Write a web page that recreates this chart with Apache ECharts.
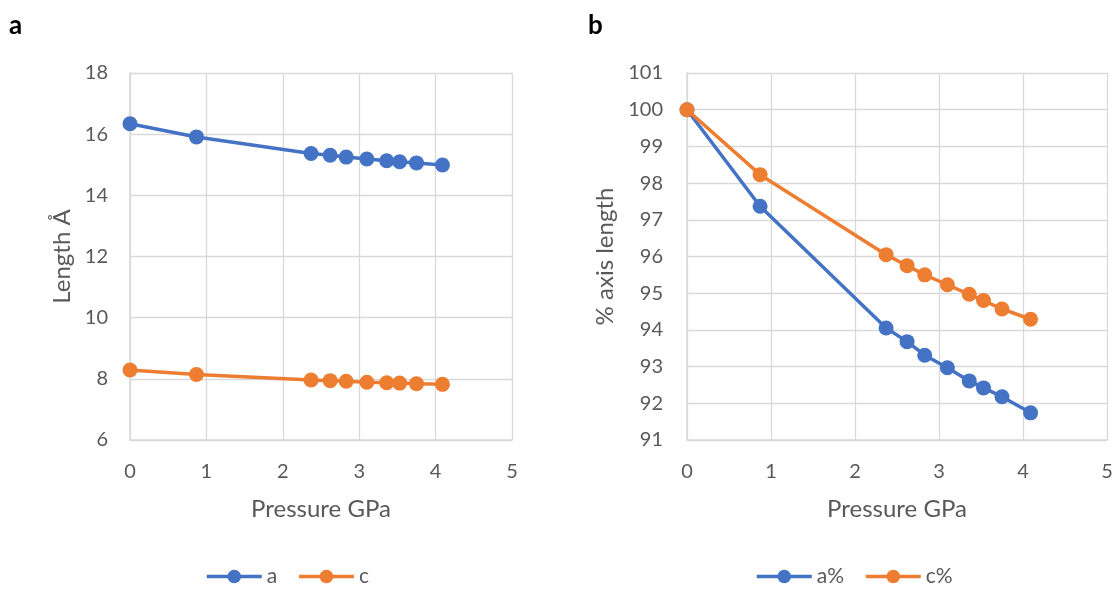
<!DOCTYPE html>
<html>
<head>
<meta charset="utf-8">
<script src="https://cdn.jsdelivr.net/npm/echarts@6/dist/echarts.min.js"></script>
<style>
html,body{margin:0;padding:0;background:#fff;}
#main{width:1116px;height:590px;}
</style>
</head>
<body>
<div id="main"></div>
<script>
// data
var pressure=[0,0.87,2.37,2.62,2.83,3.10,3.36,3.53,3.75,4.09];
var aLen=[16.34,15.91,15.37,15.31,15.25,15.19,15.13,15.10,15.06,14.99];
var cLen=[8.29,8.14,7.96,7.94,7.92,7.89,7.87,7.86,7.84,7.82];
var aPct=[100,97.37,94.05,93.68,93.31,92.97,92.61,92.42,92.18,91.74];
var cPct=[100,98.23,96.05,95.75,95.50,95.23,94.97,94.80,94.57,94.29];
var xTicks=[0,1,2,3,4,5];

var blue="#4472C4",orange="#ED7D31",txt="#595959",grid="#d9d9d9";
var font="Lato, 'Open Sans', sans-serif";

function pairs(xs,ys){
    var out=[];
    for(var i=0;i<xs.length;i++){out.push([xs[i],ys[i]]);}
    return out;
}
function xAxis(idx){
    return {
        type:"value",gridIndex:idx,min:xTicks[0],max:xTicks[xTicks.length-1],interval:1,
        name:"Pressure GPa",nameLocation:"middle",nameGap:57,
        nameTextStyle:{color:txt,fontSize:24,fontFamily:font},
        axisLine:{show:true,lineStyle:{color:grid,width:1.5}},
        axisTick:{show:false},
        axisLabel:{color:txt,fontSize:20,fontFamily:font,margin:22},
        splitLine:{show:true,lineStyle:{color:grid,width:1.3}}
    };
}
function yAxis(idx,min,max,step,name,gap,margin){
    return {
        type:"value",gridIndex:idx,min:min,max:max,interval:step,
        name:name,nameLocation:"middle",nameGap:gap,
        nameTextStyle:{color:txt,fontSize:24,fontFamily:font},
        axisLine:{show:true,lineStyle:{color:grid,width:1.5}},
        axisTick:{show:false},
        axisLabel:{color:txt,fontSize:20,fontFamily:font,margin:margin},
        splitLine:{show:true,lineStyle:{color:grid,width:1.3}}
    };
}
function line(name,idx,ys,color){
    return {
        name:name,type:"line",xAxisIndex:idx,yAxisIndex:idx,
        data:pairs(pressure,ys),
        symbol:"circle",symbolSize:15,
        lineStyle:{color:color,width:3.5},
        itemStyle:{color:color},
        emphasis:{disabled:true},
        animation:false
    };
}
function legend(names,left){
    return {
        data:names,left:left,top:561,itemWidth:55,itemHeight:17,itemGap:20,
        lineStyle:{width:3.5},
        textStyle:{color:txt,fontSize:21,fontFamily:font}
    };
}

var option={
    backgroundColor:"#fff",
    textStyle:{fontFamily:font},
    title:[
        {text:"a",left:4,top:8,textStyle:{fontSize:26,fontWeight:"bold",color:"#000",fontFamily:font}},
        {text:"b",left:583,top:8,textStyle:{fontSize:26,fontWeight:"bold",color:"#000",fontFamily:font}}
    ],
    grid:[
        {left:130,right:604,top:73,bottom:150},
        {left:687,right:9,top:73,bottom:150}
    ],
    xAxis:[xAxis(0),xAxis(1)],
    yAxis:[
        yAxis(0,6,18,2,"Length Å",56,22),
        yAxis(1,91,101,1,"% axis length",70,24)
    ],
    legend:[legend(["a","c"],200),legend(["a%","c%"],750)],
    series:[
        line("a",0,aLen,blue),
        line("c",0,cLen,orange),
        line("a%",1,aPct,blue),
        line("c%",1,cPct,orange)
    ]
};

echarts.init(document.getElementById("main")).setOption(option);
</script>
</body>
</html>
